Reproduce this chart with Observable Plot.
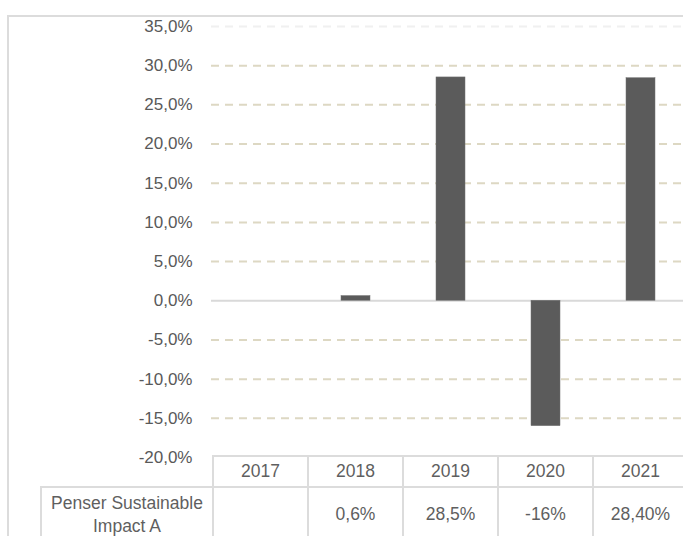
<!DOCTYPE html>
<html>
<head>
<meta charset="utf-8">
<script src="https://cdn.jsdelivr.net/npm/d3@7"></script>
<script src="https://cdn.jsdelivr.net/npm/@observablehq/plot@0.6"></script>
<style>
  html, body { margin: 0; padding: 0; background: #fff; overflow: hidden; }
  #wrap { position: relative; width: 683px; height: 536px; overflow: hidden;
          font-family: "Liberation Sans", Arial, sans-serif; color: #595959; }
  #chart { position: absolute; left: 0; top: 0; }
  #frame { position: absolute; left: 7px; top: 15px; width: 720px; height: 600px;
           border-left: 2px solid #dcdcdc; border-top: 2px solid #dcdcdc; pointer-events: none; }
  .cell { position: absolute; box-sizing: border-box; border: 2px solid #dcdcdc;
          display: flex; align-items: center; justify-content: center; text-align: center;
          font-size: 17.5px; line-height: 23px; color: #5f5f5f; }
</style>
</head>
<body>
<div id="wrap">
  <div id="chart"></div>
  <div id="table"></div>
  <div id="frame"></div>
</div>
<script>
// ---- data ----
const years = ["2017", "2018", "2019", "2020", "2021"];
const returns = [null, 0.6, 28.5, -16, 28.4];
const tableValues = ["", "0,6%", "28,5%", "-16%", "28,40%"];
const seriesName = ["Penser Sustainable", "Impact A"];
const yTicks = [-20, -15, -10, -5, 0, 5, 10, 15, 20, 25, 30, 35];

const data = years.map((y, i) => ({year: y, value: returns[i]})).filter(d => d.value != null);
const dashedTicks = yTicks.filter(t => t !== 0 && t !== 35 && t !== -20);
const faintTicks = yTicks.filter(t => t === 35);
const zeroTicks = yTicks.filter(t => t === 0);

const fmt = d => d.toFixed(1).replace(".", ",") + "%";

const chart = Plot.plot({
  width: 690,
  height: 470,
  marginLeft: 211,
  marginRight: 1,
  marginTop: 26,
  marginBottom: 13,
  style: {maxWidth: "none", background: "transparent", overflow: "visible", fontFamily: "'Liberation Sans', Arial, sans-serif", fontSize: "17px", color: "#595959"},
  x: {type: "band", domain: years, padding: 0, axis: null},
  y: {domain: [-20, 35], axis: null, label: null},
  marks: [
    Plot.ruleY(faintTicks, {stroke: "#f0f0f0", strokeWidth: 2, strokeDasharray: "8,6"}),
    Plot.ruleY(dashedTicks, {stroke: "#ddd8c3", strokeWidth: 2, strokeDasharray: "8,6"}),
    Plot.ruleY(zeroTicks, {stroke: "#d9d9d9", strokeWidth: 2}),
    Plot.barY(data, {x: "year", y: "value", fill: "#5b5b5b", stroke: "#707070", strokeWidth: 0.5, insetLeft: 33, insetRight: 33}),
    Plot.axisY(yTicks, {tickSize: 0, tickPadding: 19, tickFormat: fmt, fontSize: 17, fill: "#595959", label: null})
  ]
});
document.getElementById("chart").appendChild(chart);

// ---- data table below the chart, aligned with the x scale ----
const xs = chart.scale("x");
const table = document.getElementById("table");
function cell(left, top, width, height, html) {
  const d = document.createElement("div");
  d.className = "cell";
  d.style.left = left + "px";
  d.style.top = top + "px";
  d.style.width = width + "px";
  d.style.height = height + "px";
  d.innerHTML = html;
  table.appendChild(d);
}
const headTop = 455, headH = 33, rowTop = 486, rowH = 57;
years.forEach((y, i) => {
  const left = xs.apply(y) - 1;
  const w = xs.bandwidth + 2;
  cell(left, headTop, w, headH, y);
  cell(left, rowTop, w, rowH, tableValues[i]);
});
const firstLeft = xs.apply(years[0]);
cell(40, rowTop, firstLeft - 40 + 1, rowH, seriesName.join("<br>"));
</script>
</body>
</html>
